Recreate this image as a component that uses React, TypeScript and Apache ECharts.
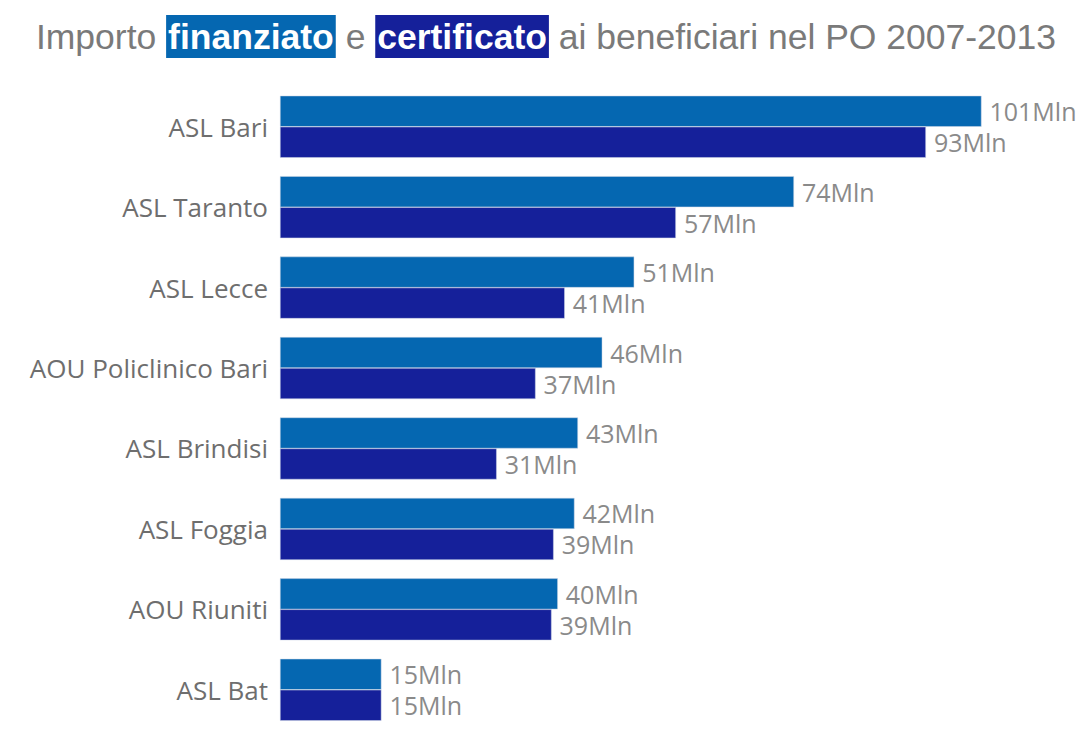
import React, { useEffect, useRef } from "react";
import * as echarts from "echarts";

const categories = [
  "ASL Bari",
  "ASL Taranto",
  "ASL Lecce",
  "AOU Policlinico Bari",
  "ASL Brindisi",
  "ASL Foggia",
  "AOU Riuniti",
  "ASL Bat",
];
const finanziato = [101, 74, 51, 46.4, 42.9, 42.4, 40, 14.6];
const certificato = [93, 57, 41, 36.8, 31.2, 39.4, 39.1, 14.6];

export default function App() {
  const ref = useRef<HTMLDivElement>(null);
  useEffect(() => {
    const chart = echarts.init(ref.current!, null, { renderer: "svg" });
    const labelStyle = {
      show: true,
      position: "right" as const,
      distance: 8,
      color: "#8a8a8a",
      fontSize: 25,
      lineHeight: 25,
      fontFamily: "Open Sans",
      formatter: (p: any) => Math.round(p.value) + "Mln",
    };
    const base = { fontFamily: "Liberation Sans", fontSize: 35.5 };
    chart.setOption({
      animation: false,
      backgroundColor: "#ffffff",
      title: {
        left: "center",
        top: 10,
        text: "{g|Importo }{a|finanziato}{g| e }{b|certificato}{g| ai beneficiari nel PO 2007-2013}",
        textStyle: {
          fontWeight: "normal",
          rich: {
            g: { ...base, fontWeight: "normal", color: "#7a7a7a" },
            a: {
              ...base,
              fontWeight: "bold",
              color: "#ffffff",
              backgroundColor: "#0567b1",
              padding: [4, 2, 3, 2],
            },
            b: {
              ...base,
              fontWeight: "bold",
              color: "#ffffff",
              backgroundColor: "#15209a",
              padding: [4, 2, 3, 2],
            },
          },
        },
      },
      grid: { left: 280, top: 86.5, height: 648, width: 764 },
      xAxis: {
        type: "value",
        min: 0,
        max: 110,
        show: false,
      },
      yAxis: {
        type: "category",
        data: categories,
        inverse: true,
        axisLine: { show: false },
        axisTick: { show: false },
        splitLine: { show: false },
        axisLabel: {
          color: "#6e6e6e",
          fontSize: 26,
          fontFamily: "Open Sans",
          margin: 12,
        },
      },
      series: [
        {
          type: "bar",
          name: "finanziato",
          data: finanziato,
          barWidth: 31,
          barGap: "0%",
          itemStyle: { color: "#0567b1", borderColor: "#cfd6e6", borderWidth: 0.5 },
          label: labelStyle,
        },
        {
          type: "bar",
          name: "certificato",
          data: certificato,
          barWidth: 31,
          barGap: "0%",
          itemStyle: { color: "#15209a", borderColor: "#cfd6e6", borderWidth: 0.5 },
          label: labelStyle,
        },
      ],
    });
    return () => chart.dispose();
  }, []);
  return (
    <div
      ref={ref}
      style={{ position: "absolute", left: 0, top: 0, width: 1092, height: 730 }}
    />
  );
}
